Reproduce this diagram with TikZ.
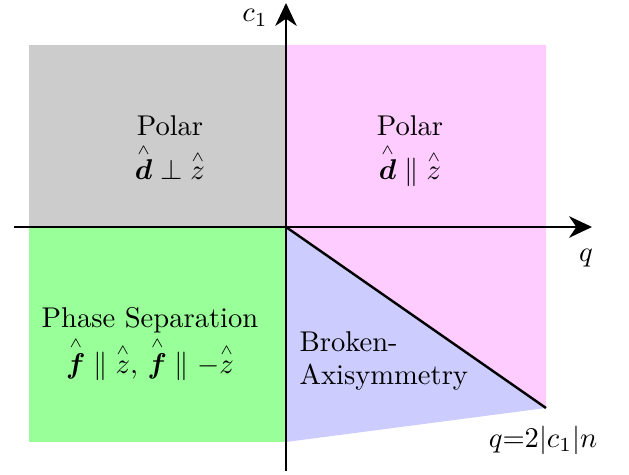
\documentclass[tikz,border=0pt]{standalone}
\usepackage{amsmath,bm}
\usetikzlibrary{arrows.meta}
\definecolor{polgray}{RGB}{204,204,204}
\definecolor{polpink}{RGB}{255,204,255}
\definecolor{psgreen}{RGB}{153,255,153}
\definecolor{bablue}{RGB}{204,204,255}
\newcommand{\hh}[1]{\overset{\scriptscriptstyle\wedge}{#1}}
\begin{document}
\begin{tikzpicture}[x=0.35pt,y=-0.35pt,
  axis/.style={line width=0.85pt,-{Stealth[length=8pt,width=7.5pt,inset=2.5pt]}},
  lbl/.style={anchor=base,inner sep=0pt,font=\fontsize{10pt}{12pt}\selectfont}]
\useasboundingbox (0,0) rectangle (629,475);
\coordinate (O) at (286,227);
\coordinate (TL) at (29,45);
\coordinate (TR) at (546,45);
\coordinate (BR) at (546,408);
\coordinate (BL) at (29,442);
\coordinate (BO) at (286,442);
\fill[polgray] (TL) rectangle (O);
\fill[polpink] (O) -- (286,45) -- (TR) -- (BR) -- cycle;
\fill[psgreen] (29,227) rectangle (BO);
\fill[bablue] (O) -- (BR) -- (BO) -- cycle;
\draw[line width=0.85pt] (O) -- (BR);
\coordinate (xs) at (14,227);
\coordinate (xe) at (592,227);
\coordinate (ys) at (286,471);
\coordinate (ye) at (286,3);
\draw[axis] (xs) -- (xe);
\draw[axis] (ys) -- (ye);
\node[lbl] (c1) at (255,22) {$c_1$};
\node[lbl] (q) at (586,262) {$q$};
\node[lbl] (p1) at (170,136) {Polar};
\node[lbl] (p1f) at (170,180) {$\hh{\bm d}\perp\hh{z}$};
\node[lbl] (p2) at (410,136) {Polar};
\node[lbl] (p2f) at (410,180) {$\hh{\bm d}\parallel\hh{z}$};
\node[lbl] (ps) at (150,327) {Phase Separation};
\node[lbl] (psf) at (150,373) {$\hh{\bm f}\parallel\hh{z},\, \hh{\bm f}\parallel-\hh{z}$};
\node[lbl,anchor=base west] (b1) at (299,351) {Broken-};
\node[lbl,anchor=base west] (b2) at (299,384) {Axisymmetry};
\node[lbl] (qc) at (543,447) {$q{=}2|c_1|n$};
\end{tikzpicture}
\end{document}
